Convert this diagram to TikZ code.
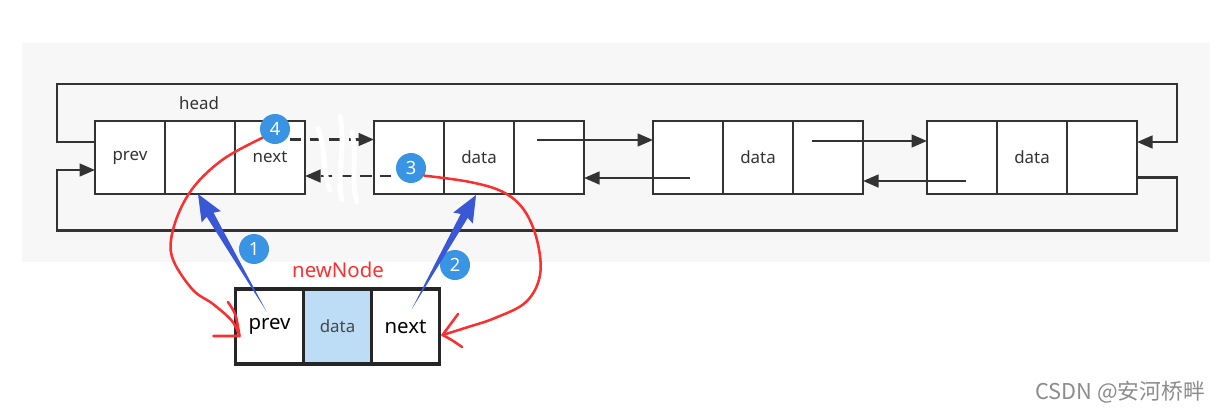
\documentclass[tikz,border=0pt]{standalone}
\usepackage{fontspec}
\setmainfont{Noto Sans}
\newfontfamily\cjk{Noto Sans CJK SC}
\usetikzlibrary{positioning, arrows.meta, calc}
\definecolor{linegray}{RGB}{51,51,51}
\definecolor{bggray}{RGB}{247,247,247}
\definecolor{badgeblue}{RGB}{58,148,228}
\definecolor{pointblue}{RGB}{58,88,214}
\definecolor{penred}{RGB}{250,48,48}
\definecolor{cellblue}{RGB}{189,221,247}

% tapered pointer: tail, tip
\newcommand{\pointarrow}[2]{%
  \fill[pointblue] (#1)
    -- ($(#2)!0.6cm!(#1)!0.1cm!90:(#2)$)
    -- ($(#2)!0.66cm!(#1)!0.28cm!90:(#2)$)
    -- (#2)
    -- ($(#2)!0.66cm!(#1)!0.28cm!-90:(#2)$)
    -- ($(#2)!0.6cm!(#1)!0.1cm!-90:(#2)$) -- cycle;}

\begin{document}
\begin{tikzpicture}[x=0.025cm, y=-0.025cm,
    cell/.style={draw=linegray, fill=white, line width=1.9pt,
      outer sep=0pt, inner sep=0pt,
      minimum width=1.75cm, minimum height=1.825cm,
      font=\fontsize{12}{14}\selectfont, text=linegray},
    newcell/.style={cell, minimum width=1.7cm, minimum height=1.875cm,
      draw=black!85, line width=2.2pt,
      font=\fontsize{14.5}{16}\selectfont, text=black},
    link/.style={draw=linegray, line width=1.8pt,
      -{Triangle[length=11pt,width=9pt]}},
    weak/.style={link, dash pattern=on 8pt off 6pt},
    badge/.style={circle, fill=badgeblue, text=white, inner sep=0pt,
      minimum size=0.75cm, font=\fontsize{13}{15}\selectfont},
    pen/.style={draw=penred, line width=1.8pt, line cap=round, line join=round},
    rub/.style={draw=white, line width=3.5pt, line cap=round}
  ]
  \useasboundingbox (0,0) rectangle (1221,414);
  \fill[bggray] (22,43) rectangle (1210,262);

  % the list
  \node[cell] (h_p) at (130,157.5) {prev};
  \node[cell, right=0pt of h_p] (h_d) {};
  \node[cell, right=0pt of h_d] (h_n) {next};
  \node[font=\fontsize{12}{14}\selectfont, text=linegray] (head_lbl) at (199,103) {head};

  \node[cell] (n2_p) at (409,157.5) {};
  \node[cell, right=0pt of n2_p] (n2_d) {data};
  \node[cell, right=0pt of n2_d] (n2_n) {};

  \node[cell] (n3_p) at (688,157.5) {};
  \node[cell, right=0pt of n3_p] (n3_d) {data};
  \node[cell, right=0pt of n3_d] (n3_n) {};

  \node[cell] (n4_p) at (962,157.5) {};
  \node[cell, right=0pt of n4_p] (n4_d) {data};
  \node[cell, right=0pt of n4_d] (n4_n) {};

  % round trip
  \draw[link] ($(h_p.west)+(0,-15.5)$) -- ++(-38,0) -- ++(0,-58)
    -| ($(n4_n.east)+(40,-15.5)$) -- ($(n4_n.east)+(0,-15.5)$);
  \draw[link] ($(n4_n.east)+(0,20)$) -- ++(40,0) -- ++(0,53)
    -| ($(h_p.west)+(-38,12.5)$) -- ($(h_p.west)+(0,12.5)$);

  \draw[link] ($(n2_n.center)+(-12,-17.5)$) -- ($(n3_p.west)+(0,-17.5)$);
  \draw[link] ($(n3_p.center)+(2,20.5)$) -- ($(n2_n.east)+(0,20.5)$);
  \draw[link] ($(n3_n.center)+(-16,-16.5)$) -- ($(n4_p.west)+(0,-16.5)$);
  \draw[link] ($(n4_p.center)+(4,23.5)$) -- ($(n3_n.east)+(0,23.5)$);

  \draw[weak] ($(h_n.center)+(20,-18)$) -- ($(n2_p.west)+(0,-18)$);
  \draw[weak] ($(n2_p.center)+(2,18.5)$) -- ($(h_n.east)+(0,18.5)$);

  % rubbed out
  \draw[rub] (318,128) .. controls (326,150) and (322,170) .. (330,190);
  \draw[rub] (340,116) .. controls (346,150) and (336,175) .. (342,200);
  \draw[rub] (352,132) .. controls (358,160) and (350,180) .. (357,202);

  % new node
  \node[newcell] (nw_p) at (269.5,326.5) {prev};
  \node[newcell, right=0pt of nw_p, fill=cellblue, text=linegray!90,
    font=\fontsize{12}{14}\selectfont] (nw_d) {data};
  \node[newcell, right=0pt of nw_d] (nw_n) {next};
  \node[text=penred, font=\fontsize{14.5}{16}\selectfont] (nw_lbl) at (338,270) {newNode};

  \node[badge] (b4) at (275,129) {4};
  \node[badge] (b3) at (411,168) {3};
  \node[badge] (b1) at (254,249) {1};
  \node[badge] (b2) at (455,265) {2};

  % hand drawn
  \coordinate (a_tip) at ($(nw_p.west)+(4,9.5)$);
  \coordinate (b_tip) at ($(nw_n.east)+(3,8.5)$);
  \draw[pen] plot[smooth, tension=0.6] coordinates {(b4.215) (225,158) (197,183)
    (180,210) (171,240) (174,262) (193,290) (213,304) (232,321) (a_tip)};
  \draw[pen] (228,302) .. controls (236,314) .. (a_tip) -- ++(-26,0);
  \draw[pen] plot[smooth, tension=0.6] coordinates {(b3.330) (470,182) (503,192)
    (524,210) (537,240) (540,275) (526,302) (495,318) (465,328) (b_tip)};
  \draw[pen] (458,314) -- (b_tip) .. controls (452,340) .. (462,347);

  \coordinate (t1) at ($(nw_p.center)+(-3,-15)$);
  \coordinate (t2) at ($(nw_n.center)+(6,-17)$);
  \pointarrow{t1}{$(h_d.south)+(-2,0)$}
  \pointarrow{t2}{$(n2_d.south)+(-3,1)$}

  \node[font=\cjk\fontsize{15.5}{17}\selectfont, text=black!45] (mark) at (1120,392) {CSDN @安河桥畔};
\end{tikzpicture}
\end{document}
